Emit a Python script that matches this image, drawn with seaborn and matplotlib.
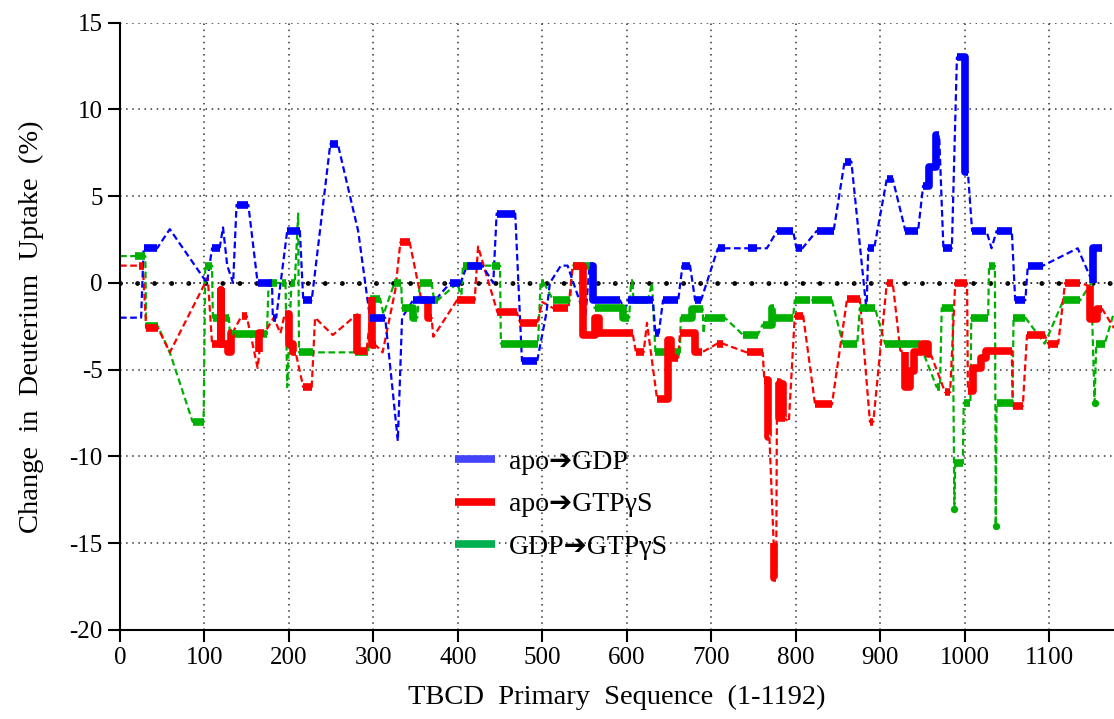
import pandas as pd
import seaborn as sns
import matplotlib.pyplot as plt
from matplotlib.lines import Line2D

sns.set_theme(style="white")
plt.rcParams['font.family'] = ['Liberation Serif', 'DejaVu Sans']
plt.rcParams['axes.unicode_minus'] = False
plt.rcParams['text.color'] = 'black'
plt.rcParams['axes.labelcolor'] = 'black'

# peptides: start residue, end residue, change (%), significant (thick) or not
blue_start = [0, 28, 59, 103, 109, 122, 127, 134, 138, 163, 181, 198, 217, 249, 282, 296, 329, 334, 347, 391,
              411, 442, 446, 476, 505, 509, 522, 551, 556, 560, 598, 601, 634, 643, 666, 681, 708, 744, 766, 778,
              801, 825, 858, 884, 886, 908, 930, 951, 958, 966, 975, 991, 1000, 1009, 1032, 1038, 1060, 1075,
              1134, 1152, 1152]
blue_end = [25, 44, 59, 103, 118, 122, 127, 134, 152, 180, 185, 213, 227, 258, 282, 314, 329, 334, 373, 403,
            429, 442, 468, 494, 505, 509, 530, 551, 560, 592, 598, 631, 638, 661, 675, 688, 716, 754, 766, 797,
            808, 845, 866, 884, 893, 915, 945, 958, 966, 970, 985, 1000, 1004, 1026, 1032, 1056, 1072, 1093,
            1134, 1152, 1163]
blue_val = [-2, 2, 3.1, 0, 2, 3.2, 1, 0, 4.5, 0, -2, 3, -1, 8, 3, -2, -9.1, -2, -1, 0,
            1, 0, 4, -4.5, -1.7, 0, 1, -2, 1, -1, -1.5, -1, -2.9, -1, 1, -1, 2, 2, 2, 3,
            2, 3, 7, -1.6, 2, 6, 3, 5.6, 6.7, 8.5, 2, 13, 6.4, 3, 2, 3, -1, 1,
            2, 0, 2]
blue_sig = [0, 1, 0, 0, 1, 0, 0, 0, 1, 1, 1, 1, 1, 1, 0, 1, 0, 0, 1, 1,
            1, 0, 1, 1, 0, 0, 0, 0, 1, 1, 0, 1, 1, 1, 1, 1, 1, 1, 0, 1,
            1, 1, 1, 0, 1, 1, 1, 1, 1, 1, 1, 1, 1, 1, 0, 1, 1, 1,
            0, 1, 1]

red_start = [0, 22, 31, 59, 104, 109, 120, 120, 128, 131, 144, 163, 165, 165, 182, 190, 195, 200, 205, 217,
             231, 252, 281, 281, 299, 299, 311, 326, 332, 357, 365, 371, 399, 424, 447, 474, 500, 513, 536, 548,
             562, 567, 611, 624, 636, 649, 653, 663, 681, 707, 742, 763, 767, 774, 774, 778, 780, 782, 785, 792,
             799, 823, 861, 888, 908, 924, 930, 930, 935, 940, 950, 957, 977, 989, 1004, 1010, 1020, 1026, 1057,
             1074, 1099, 1119, 1149, 1149, 1157, 1177]
red_end = [22, 27, 45, 59, 104, 120, 120, 128, 131, 133, 150, 163, 165, 171, 182, 190, 200, 205, 208, 227,
           231, 252, 281, 292, 299, 303, 311, 326, 343, 365, 369, 371, 420, 424, 470, 494, 500, 531, 548, 562,
           567, 607, 620, 624, 649, 653, 661, 681, 689, 714, 761, 767, 769, 774, 777, 780, 782, 785, 787, 792,
           809, 843, 876, 892, 915, 924, 930, 935, 940, 950, 957, 960, 983, 1003, 1010, 1020, 1026, 1056, 1069,
           1095, 1111, 1137, 1149, 1157, 1163, 1177]
red_val = [1, 1, -2.6, -4, 0.3, -3.5, -0.4, -3.5, -4, -2.9, -1.9, -4.9, -4, -2.9, -2, -2.9, -1.8, -3.5, -4, -6,
           -2, -3, -1.8, -3.9, -0.8, -3.6, -4, -0.4, 2.35, -1, -2, -3.1, -1, 2.1, -1.7, -2.3, -1.1, -1.45, 1, -3,
           -2, -2.9, -4, -2.3, -6.7, -3.3, -4.3, -2.9, -4, -3.5, -4, -5.6, -8.9, -15, -17, -5.7, -7.8, -5.8, -7.8, -8,
           -1.9, -7, -0.9, -8, 0, -3.9, -4, -6, -5.1, -4, -3.5, -4.1, -6.3, 0, -6.2, -4.9, -4.3, -3.9, -7.1,
           -3, -3.5, 0, -0.2, -2.1, -1.5, -2.6]
red_sig = [0, 1, 1, 0, 0, 1, 1, 1, 1, 1, 1, 0, 1, 1, 0, 0, 1, 1, 1, 1,
           0, 0, 1, 1, 1, 1, 0, 0, 1, 1, 1, 0, 1, 0, 1, 1, 0, 1, 1, 1,
           1, 1, 1, 0, 1, 1, 1, 1, 1, 1, 1, 1, 1, 1, 1, 1, 1, 1, 1, 0,
           1, 1, 1, 1, 1, 0, 1, 1, 1, 1, 1, 1, 1, 1, 1, 1, 1, 1, 1,
           1, 1, 1, 1, 1, 1, 0]

green_start = [0, 18, 31, 59, 86, 101, 110, 130, 176, 192, 198, 203, 211, 212, 278, 296, 312, 325, 334, 347,
               355, 372, 400, 404, 406, 440, 451, 498, 513, 536, 562, 596, 605, 608, 630, 634, 664, 677, 691, 693,
               738, 761, 772, 776, 799, 820, 856, 876, 906, 967, 973, 988, 989, 999, 1008, 1029, 1037, 1038, 1058,
               1095, 1117, 1150, 1154, 1156, 1177]
green_end = [17, 30, 45, 59, 99, 109, 129, 174, 186, 196, 198, 207, 211, 229, 294, 308, 312, 333, 347, 352,
             369, 376, 400, 404, 424, 450, 495, 502, 533, 560, 596, 603, 607, 625, 630, 663, 677, 690, 691, 716,
             755, 772, 774, 797, 817, 843, 873, 894, 947, 971, 986, 988, 998, 1007, 1028, 1036, 1037, 1057, 1072,
             1095, 1137, 1150, 1154, 1166, 1177]
green_val = [1.55, 1.55, -2.5, -4, -8, 1, -2, -2.95, 0, 0, -6, 0, 4, -4, -4, -0.9, -1.8, 0, -1.45, -2,
             0, -1, 0, -1, 1, 1, -3.5, 0, -1, 1, -1.45, -2, 0, -1, 0, -4, -2, -1.5, -2.9, -2,
             -3, -2.4, -1.45, -2, -1, -1, -3.5, -1.45, -3.5, -6, -1.45, -13, -10.4, -6.9, -2, 1, -14, -6.9, -2,
             -3.5, -1, 0, -6.9, -3.5, -1.7]
green_sig = [0, 1, 1, 0, 1, 1, 1, 1, 1, 1, 0, 1, 0, 1, 1, 1, 0, 1, 1, 1,
             1, 1, 0, 0, 1, 1, 1, 1, 1, 1, 1, 1, 1, 1, 0, 1, 1, 1, 0, 1,
             1, 1, 1, 1, 1, 1, 1, 1, 1, 1, 1, 1, 1, 1, 1, 1, 1, 1, 1,
             0, 1, 0, 1, 1, 0]

labels = ['apo\u2794GDP', 'apo\u2794GTP\u03b3S', 'GDP\u2794GTP\u03b3S']
line_colors = ['#0000ff', '#ff0000', '#00b000']
legend_colors = ['#4444ff', '#ff0000', '#00b050']


def build(start, end, val, sig):
    thin = pd.DataFrame({'x': [p for s, e in zip(start, end) for p in (s, e)],
                         'y': [v for v in val for _ in (0, 1)]})
    rows, run, prev_end, prev_sig = [], -1, None, False
    for s, e, v, g in zip(start, end, val, sig):
        if g:
            if not (prev_sig and s - prev_end <= 0.5):
                run += 1
            rows += [(run, s, v), (run, e, v)]
        prev_end, prev_sig = e, g
    thick = pd.DataFrame(rows, columns=['run', 'x', 'y'])
    span = thick.groupby('run')['x'].agg(lambda x: x.max() - x.min())
    dots = thick[thick['run'].isin(span[span == 0].index)].drop_duplicates('run')
    return thin, thick, dots


series = [build(green_start, green_end, green_val, green_sig),
          build(red_start, red_end, red_val, red_sig),
          build(blue_start, blue_end, blue_val, blue_sig)]
colors = [line_colors[2], line_colors[1], line_colors[0]]

fig = plt.figure(figsize=(11.14, 7.19), dpi=100)
ax = fig.add_axes([0.1077, 0.1238, 0.8923, 0.8446])

ax.grid(True, color='#333333', lw=1.1, ls=(0, (1, 3)))
ax.axhline(0, color='black', lw=3.5, ls=(0, (0.01, 3.5)), dash_capstyle='round', zorder=1.6)
ax.axhline(0, color='#333333', lw=1.1, ls=(0, (1, 3)), zorder=1.6)

for (thin, thick, dots), c in zip(series, colors):
    sns.lineplot(data=thin, x='x', y='y', sort=False, estimator=None, color=c,
                 lw=1.6, ls=(0, (3, 1.6)), ax=ax, zorder=2)
for (thin, thick, dots), c in zip(series, colors):
    sns.lineplot(data=thick, x='x', y='y', units='run', sort=False, estimator=None, color=c,
                 lw=5.5, solid_capstyle='butt', ax=ax, zorder=3)
    if len(dots):
        sns.scatterplot(data=dots, x='x', y='y', color=c, s=28, linewidth=0, ax=ax, zorder=3)

ax.set_xlim(0, 1177)
ax.set_ylim(-20, 15)
ax.set_xticks(range(0, 1101, 100))
ax.set_yticks(range(-20, 16, 5))
ax.tick_params(labelsize=18, length=8.5, width=1.5, direction='out', left=True, bottom=True,
               colors='black', labelcolor='black', pad=4)
for side in ['top', 'right']:
    ax.spines[side].set_visible(False)
for side in ['left', 'bottom']:
    ax.spines[side].set_color('black')
    ax.spines[side].set_linewidth(1.5)

ax.set_xlabel('TBCD  Primary  Sequence  (1-1192)', fontsize=20.5, labelpad=11, color='black')
ax.set_ylabel('Change  in  Deuterium  Uptake  (%)', fontsize=20.5, labelpad=18, color='black')

handles = [Line2D([], [], color=c, lw=5.5, solid_capstyle='butt') for c in legend_colors]
ax.legend(handles, labels, loc='upper left', bbox_to_anchor=(0.408, 0.375),
          bbox_transform=fig.transFigure, frameon=False, fontsize=20, handlelength=1.45,
          handletextpad=0.5, labelspacing=0.62, borderpad=0, borderaxespad=0, labelcolor='black')

fig.savefig('out.png', dpi=100)
